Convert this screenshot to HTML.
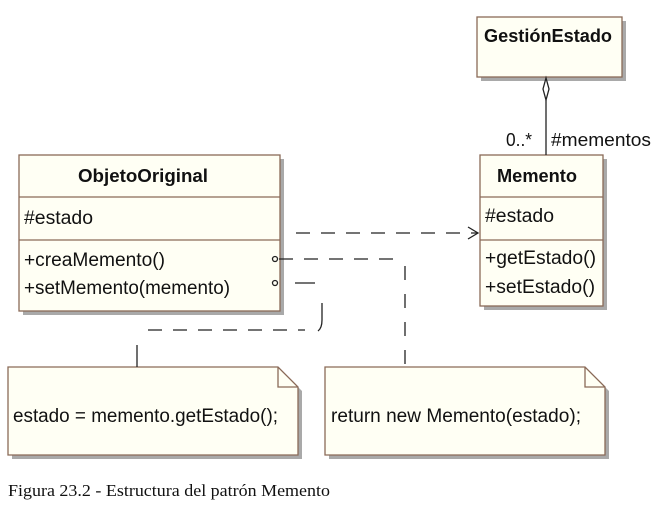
<!DOCTYPE html>
<html><head><meta charset="utf-8"><style>
body{margin:0;background:#fff;width:655px;height:506px;overflow:hidden}
</style></head><body>
<svg width="655" height="506" xmlns="http://www.w3.org/2000/svg" font-family="Liberation Sans, sans-serif">
<g fill="#a9a9a9">
<rect x="481" y="21" width="145" height="60"/>
<rect x="23" y="159" width="261" height="156"/>
<rect x="484" y="159" width="123" height="151"/>
<path d="M12 371 H282 L302 391 V459 H12 Z"/>
<path d="M329 371 H589 L609 391 V459 H329 Z"/>
</g>
<g stroke="#8a6a58" stroke-width="1.3" fill="#fffff4">
<rect x="477" y="17" width="145" height="60"/>
<rect x="19" y="155" width="261" height="156"/>
<line x1="19" y1="197" x2="280" y2="197"/>
<line x1="19" y1="240" x2="280" y2="240"/>
<rect x="480" y="155" width="123" height="151"/>
<line x1="480" y1="197" x2="603" y2="197"/>
<line x1="480" y1="240" x2="603" y2="240"/>
<path d="M8 367 H278 L298 387 V455 H8 Z"/>
<path d="M278 367 V387 H298" fill="none"/>
<path d="M325 367 H585 L605 387 V455 H325 Z"/>
<path d="M585 367 V387 H605" fill="none"/>
</g>
<g fill="#111">
<text x="484" y="42" font-size="18" font-weight="bold" textLength="128" lengthAdjust="spacingAndGlyphs">GestiónEstado</text>
<text x="78" y="182" font-size="18" font-weight="bold" textLength="130" lengthAdjust="spacingAndGlyphs">ObjetoOriginal</text>
<text x="497" y="182" font-size="18" font-weight="bold" textLength="80" lengthAdjust="spacingAndGlyphs">Memento</text>
<text x="24" y="224" font-size="19" textLength="69" lengthAdjust="spacingAndGlyphs">#estado</text>
<text x="24" y="266" font-size="19" textLength="141" lengthAdjust="spacingAndGlyphs">+creaMemento()</text>
<text x="24" y="294" font-size="19" textLength="206" lengthAdjust="spacingAndGlyphs">+setMemento(memento)</text>
<text x="485" y="222" font-size="19" textLength="69" lengthAdjust="spacingAndGlyphs">#estado</text>
<text x="485" y="264" font-size="19" textLength="111" lengthAdjust="spacingAndGlyphs">+getEstado()</text>
<text x="485" y="293" font-size="19" textLength="110" lengthAdjust="spacingAndGlyphs">+setEstado()</text>
<text x="506" y="146" font-size="18" textLength="26" lengthAdjust="spacingAndGlyphs">0..*</text>
<text x="551" y="146" font-size="18" textLength="100" lengthAdjust="spacingAndGlyphs">#mementos</text>
<text x="13" y="422" font-size="19" textLength="265" lengthAdjust="spacingAndGlyphs">estado = memento.getEstado();</text>
<text x="331" y="422" font-size="19" textLength="250" lengthAdjust="spacingAndGlyphs">return new Memento(estado);</text>
<text x="8" y="496" font-size="17" font-family="Liberation Serif, serif" textLength="322" lengthAdjust="spacingAndGlyphs">Figura 23.2 - Estructura del patrón Memento</text>
</g>
<g stroke="#222" stroke-width="1.3" fill="none">
<line x1="546" y1="100" x2="546" y2="155"/>
<path d="M546 78 L543 89 L546 100 L549 89 Z" fill="#fff"/>
<line x1="296" y1="233" x2="478" y2="233" stroke-dasharray="14,11"/>
<path d="M468 227 L478 233 L468 239"/>
<circle cx="275" cy="259" r="2.5"/>
<line x1="279" y1="259" x2="400" y2="259" stroke-dasharray="14,11"/>
<line x1="405" y1="266" x2="405" y2="367" stroke-dasharray="14,14"/>
<circle cx="275" cy="283" r="2.5"/>
<line x1="295" y1="283" x2="315" y2="283"/>
<path d="M322 303 V320 Q322 328 318 331"/>
<line x1="148" y1="330" x2="305" y2="330" stroke-dasharray="14,11"/>
<line x1="137" y1="345" x2="137" y2="367"/>
</g>
</svg>
</body></html>
